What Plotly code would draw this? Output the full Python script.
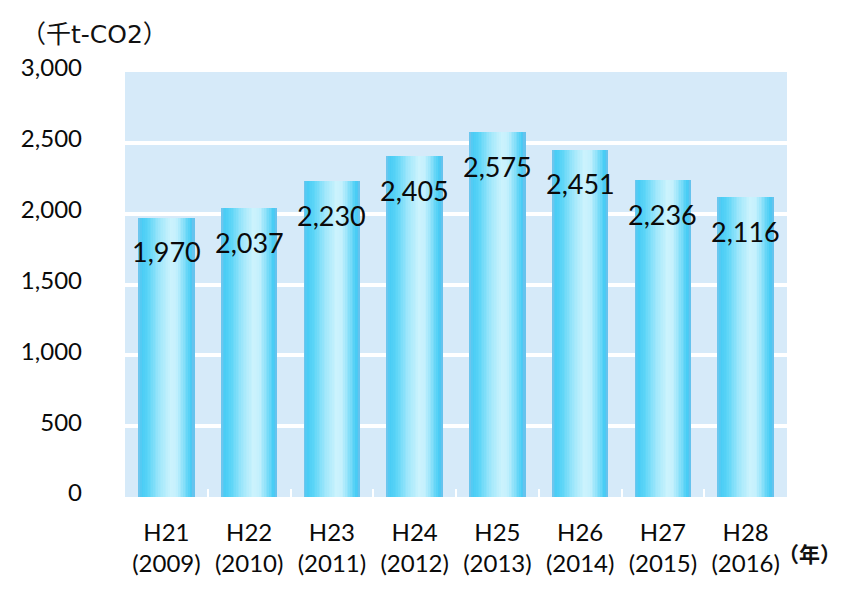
import plotly.graph_objects as go

# Annual CO2 emissions (thousand t-CO2)
eras = ["H21", "H22", "H23", "H24", "H25", "H26", "H27", "H28"]
years = ["2009", "2010", "2011", "2012", "2013", "2014", "2015", "2016"]
emissions = [1970, 2037, 2230, 2405, 2575, 2451, 2236, 2116]

tick_text = [f"{e}<br>({y})" for e, y in zip(eras, years)]

# Horizontal colour profile used to give each bar a cylinder look
shade_stops = [
    (0.00, (120, 196, 236)),
    (0.06, (72, 204, 245)),
    (0.18, (92, 213, 247)),
    (0.38, (160, 231, 251)),
    (0.58, (204, 243, 253)),
    (0.68, (196, 240, 253)),
    (0.82, (128, 222, 249)),
    (0.94, (66, 203, 244)),
    (1.00, (112, 192, 236)),
]


def shade(t):
    for (p0, c0), (p1, c1) in zip(shade_stops, shade_stops[1:]):
        if p0 <= t <= p1:
            f = (t - p0) / (p1 - p0) if p1 > p0 else 0
            r, g, b = (round(a + (b_ - a) * f) for a, b_ in zip(c0, c1))
            return f"rgb({r},{g},{b})"
    return "rgb(%d,%d,%d)" % shade_stops[-1][1]


bar_width = 0.68
n_strips = 34
strip_w = bar_width / n_strips

fig = go.Figure()
for i in range(n_strips):
    t = (i + 0.5) / n_strips
    fig.add_trace(go.Bar(
        x=eras,
        y=emissions,
        offset=-bar_width / 2 + i * strip_w,
        width=strip_w * (1.6 if i < n_strips - 1 else 1.0),
        marker=dict(color=shade(t), line=dict(width=0)),
        hoverinfo="skip",
        showlegend=False,
    ))

# Value labels sit just below the top of each bar
for era, v in zip(eras, emissions):
    fig.add_annotation(
        x=era, y=v, text=f"{v:,}", showarrow=False,
        yshift=-34, xanchor="center", yanchor="middle",
        font=dict(family="Lato", size=27, color="#0a0a0a"),
    )

fig.add_annotation(
    xref="paper", yref="paper", x=-0.16, y=1.05,
    text="（千t-CO2）", showarrow=False, xanchor="left", yanchor="bottom",
    font=dict(family="DejaVu Sans, Noto Sans CJK JP", size=25, color="#111111"),
)
fig.add_annotation(
    xref="paper", yref="paper", x=0.984, y=-0.132,
    text="（年）", showarrow=False, xanchor="left", yanchor="middle",
    font=dict(family="Noto Sans CJK JP", size=21, color="#111111", weight="bold"),
)

fig.update_layout(
    width=850, height=597,
    margin=dict(l=125, r=63, t=72, b=100),
    paper_bgcolor="white",
    plot_bgcolor="#d6eaf9",
    barmode="overlay",
    bargap=0,
    showlegend=False,
)
fig.update_xaxes(
    type="category",
    tickmode="array", tickvals=eras, ticktext=tick_text,
    tickson="boundaries", ticks="inside", ticklen=8,
    tickcolor="white", tickwidth=2,
    showgrid=False, showline=False, zeroline=False,
    ticklabelstandoff=19,
    tickfont=dict(family="Lato", size=24, color="#0a0a0a"),
)
fig.update_yaxes(
    range=[0, 3000], dtick=500, tickformat=",",
    showgrid=True, gridcolor="white", gridwidth=4,
    showline=False, zeroline=False, ticks="",
    ticklabelstandoff=42, ticklabelshift=-4,
    tickfont=dict(family="Lato", size=24, color="#0a0a0a"),
)

fig.write_html("out.html")
